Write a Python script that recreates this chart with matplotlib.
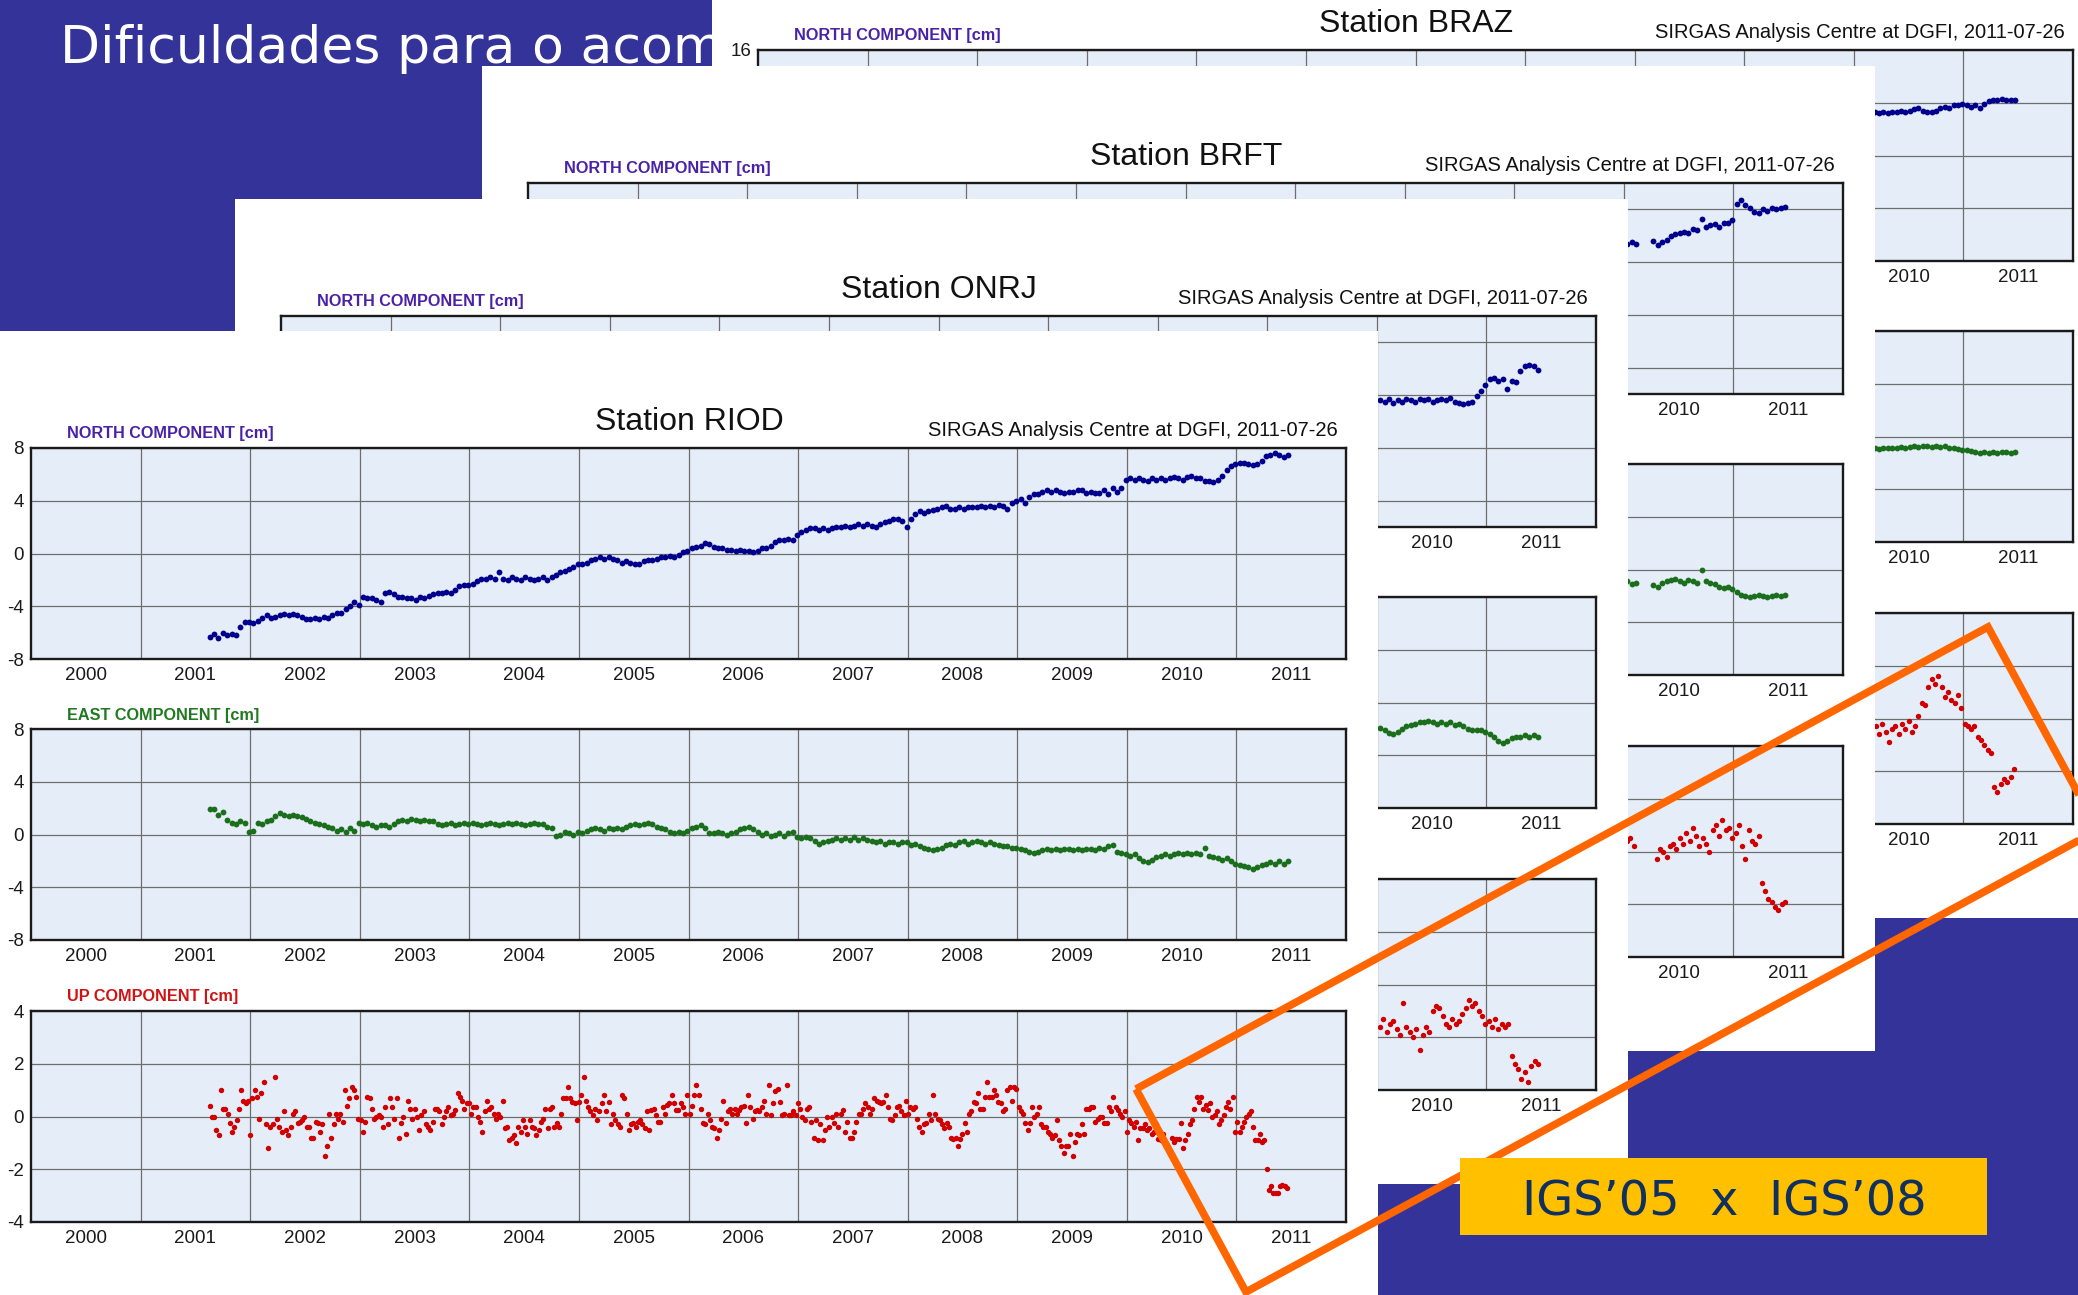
import numpy as np
import matplotlib.pyplot as plt
from matplotlib.patches import Rectangle, Polygon
from matplotlib.ticker import FixedLocator, FuncFormatter, MultipleLocator

W, H = 2078, 1295
FAM = ['Liberation Sans', 'DejaVu Sans']
plt.rcParams['font.family'] = FAM

# ---------------------------------------------------------------- data
# weekly-ish solutions (cm); north/east every 0.04 yr
STEP = 0.04

riod_north = [
    -6.3, -6.1, -6.4, -6.0, -6.2, -6.1, -6.2, -5.6, -5.2,                      # 2001
    -5.2, -5.3, -5.1, -4.9, -4.7, -4.9, -4.8, -4.7, -4.6, -4.7, -4.6, -4.7, -4.8,
    -5.0, -5.0, -4.9, -5.0, -4.8, -4.9, -4.7, -4.5, -4.5, -4.2, -4.0, -3.7,    # 2002
    -3.9, -3.3, -3.4, -3.4, -3.5, -3.7, -3.0, -2.9, -3.1, -3.3, -3.3, -3.4, -3.4,
    -3.5, -3.3, -3.4, -3.2, -3.1, -3.0, -3.0, -2.9, -3.0, -2.8, -2.5, -2.4,    # 2003
    -2.4, -2.3, -2.1, -1.9, -1.9, -1.8, -1.9, -1.4, -1.9, -2.0, -1.8, -1.9, -2.0,
    -1.8, -1.9, -2.0, -1.9, -1.8, -2.0, -1.8, -1.6, -1.4, -1.3, -1.2, -1.0,    # 2004
    -0.8, -0.8, -0.7, -0.5, -0.4, -0.3, -0.4, -0.3, -0.4, -0.5, -0.7, -0.6, -0.7,
    -0.8, -0.8, -0.6, -0.5, -0.5, -0.4, -0.3, -0.3, -0.2, -0.3, -0.1, 0.1,     # 2005
    0.2, 0.4, 0.5, 0.6, 0.8, 0.7, 0.5, 0.4, 0.4, 0.3, 0.3, 0.2, 0.3,
    0.2, 0.2, 0.1, 0.2, 0.4, 0.4, 0.6, 0.9, 1.0, 1.0, 1.1, 1.0,                # 2006
    1.4, 1.6, 1.8, 1.9, 1.9, 1.8, 1.9, 1.8, 1.9, 2.0, 2.0, 2.1, 2.0,
    2.1, 2.2, 2.1, 2.2, 2.1, 2.0, 2.2, 2.4, 2.5, 2.6, 2.6, 2.5,                # 2007
    2.0, 2.6, 3.0, 3.2, 3.1, 3.2, 3.3, 3.4, 3.5, 3.6, 3.4, 3.4, 3.5,
    3.4, 3.5, 3.5, 3.5, 3.6, 3.5, 3.6, 3.5, 3.7, 3.6, 3.4, 3.8,                # 2008
    4.0, 4.1, 3.8, 4.3, 4.5, 4.5, 4.7, 4.8, 4.7, 4.8, 4.7, 4.6, 4.7,
    4.7, 4.8, 4.8, 4.6, 4.7, 4.6, 4.6, 4.8, 4.5, 5.0, 4.7, 5.0,                # 2009
    5.6, 5.7, 5.6, 5.7, 5.6, 5.5, 5.7, 5.6, 5.7, 5.6, 5.7, 5.8, 5.7,
    5.6, 5.8, 5.9, 5.7, 5.7, 5.5, 5.5, 5.4, 5.6, 5.9, 6.3, 6.6,                # 2010
    6.8, 6.9, 6.9, 6.8, 6.7, 6.8, 7.0, 7.4, 7.5, 7.6, 7.5, 7.3, 7.5,           # 2011
]

riod_east = [
    1.9, 1.9, 1.5, 1.7, 1.1, 0.9, 0.8, 1.0, 0.9,                               # 2001
    0.2, 0.3, 0.9, 0.8, 1.0, 1.1, 1.4, 1.6, 1.5, 1.4, 1.5, 1.4, 1.3,
    1.2, 1.0, 0.9, 0.8, 0.7, 0.6, 0.5, 0.3, 0.4, 0.2, 0.5, 0.3,                # 2002
    0.9, 0.8, 0.9, 0.7, 0.6, 0.7, 0.7, 0.6, 0.8, 1.0, 1.1, 1.0, 1.2,
    1.1, 1.0, 1.1, 1.0, 1.0, 0.8, 0.7, 0.8, 0.9, 0.7, 0.8, 0.9,                # 2003
    0.8, 0.9, 0.8, 0.7, 0.8, 0.9, 0.8, 0.7, 0.8, 0.9, 0.8, 0.9, 0.8,
    0.7, 0.8, 0.9, 0.8, 0.8, 0.6, 0.5, -0.1, 0.0, 0.2, 0.1, 0.0,               # 2004
    0.2, 0.1, 0.3, 0.4, 0.5, 0.4, 0.3, 0.5, 0.4, 0.5, 0.4, 0.6, 0.7,
    0.8, 0.7, 0.8, 0.9, 0.8, 0.6, 0.5, 0.4, 0.2, 0.1, 0.2, 0.1,                # 2005
    0.3, 0.5, 0.6, 0.7, 0.5, 0.1, 0.1, 0.2, 0.1, 0.0, 0.1, 0.2, 0.4,
    0.5, 0.6, 0.4, 0.2, 0.0, 0.1, -0.1, 0.0, 0.1, -0.1, 0.1, 0.2,              # 2006
    -0.2, -0.3, -0.2, -0.3, -0.5, -0.7, -0.6, -0.5, -0.4, -0.3, -0.4, -0.3, -0.4,
    -0.2, -0.4, -0.3, -0.4, -0.5, -0.6, -0.5, -0.7, -0.6, -0.6, -0.7, -0.6,    # 2007
    -0.6, -0.8, -0.7, -0.9, -1.0, -1.1, -1.2, -1.1, -1.0, -0.8, -0.7, -0.8, -0.6,
    -0.5, -0.7, -0.6, -0.5, -0.6, -0.7, -0.6, -0.7, -0.8, -0.9, -0.9, -1.0,    # 2008
    -1.0, -1.1, -1.2, -1.3, -1.4, -1.3, -1.2, -1.1, -1.2, -1.1, -1.2, -1.1, -1.1,
    -1.2, -1.1, -1.2, -1.1, -1.1, -1.2, -1.0, -1.1, -0.9, -0.8, -1.3, -1.4,    # 2009
    -1.5, -1.6, -1.5, -1.8, -2.0, -2.1, -1.9, -1.7, -1.6, -1.5, -1.6, -1.5, -1.4,
    -1.5, -1.4, -1.5, -1.4, -1.5, -1.0, -1.6, -1.7, -1.8, -1.9, -1.8, -2.0,    # 2010
    -2.2, -2.3, -2.4, -2.5, -2.6, -2.5, -2.3, -2.2, -2.1, -2.2, -2.0, -2.2, -2.0,  # 2011
]

riod_up = [
    0.4, 0.0, 0.0, -0.5, -0.7, 1.0, 0.3, 0.3, 0.1, -0.25,
    -0.6, -0.4, -0.15, 0.3, 1.0, 0.6, 0.5, 0.6, -0.7, 0.7,
    1.0, 0.75, -0.1, 0.9, 1.3, -0.3, -1.2, -0.4, -0.3, 1.5,
    -0.1, -0.4, -0.6, 0.2, -0.5, -0.7, -0.4, 0.1, 0.2, -0.25,
    -0.2, -0.15, 0.0, -0.4, -0.4, -0.8, -0.8, -0.2, -0.25, -0.6,
    -0.3, -1.5, -1.1, 0.1, -0.8, -0.3, 0.1, -0.1, 0.1, -0.2,
    1.0, 0.4, 0.7, 1.1, 1.0, 0.75, -0.1, -0.15, -0.6, -0.2,
    0.75, 0.7, 0.3, -0.1, 0.0, 0.05, 0.0, -0.4, 0.35, -0.3,
    0.7, 0.35, -0.1, 0.7, -0.8, -0.25, 0.0, -0.65, 0.6, 0.3,
    -0.1, 0.3, 0.0, -0.5, 0.05, 0.2, -0.3, -0.4, -0.5, -0.2,
    0.3, 0.3, 0.2, -0.3, 0.0, 0.2, 0.35, 0.05, 0.1, 0.25,
    0.9, 0.75, 0.6, 0.3, 0.5, 0.5, 0.1, 0.35, 0.35, 0.0,
    -0.2, -0.6, 0.2, 0.6, 0.3, 0.35, 0.1, -0.1, 0.1, 0.0,
    0.6, -0.45, -0.4, -0.9, -0.8, -0.7, -1.0, -0.4, -0.6, -0.15,
    -0.4, -0.65, -0.15, -0.4, -0.45, -0.7, -0.5, -0.2, -0.1, 0.3,
    -0.45, 0.3, 0.35, -0.4, -0.25, -0.4, 0.1, 0.7, 0.7, 1.1,
    0.7, 0.55, 0.5, -0.15, 0.55, 0.8, 1.5, 0.6, 0.35, 0.2,
    0.05, 0.3, -0.15, 0.2, 0.5, 0.8, 0.2, 0.55, -0.3, 0.1,
    -0.15, -0.3, -0.4, 0.8, 0.7, 0.1, -0.5, -0.3, -0.25, -0.4,
    -0.2, -0.15, -0.3, -0.45, 0.2, -0.5, 0.25, 0.3, 0.05, -0.2,
    -0.2, 0.35, 0.1, 0.45, 0.5, 0.8, 0.5, 0.25, 0.25, 0.5,
    0.35, 0.1, 0.8, 0.1, 0.4,
    # 2006 onwards
    0.8, 1.2, 0.8, 0.3, -0.25, -0.3, 0.1, -0.15, -0.4, -0.45,
    -0.8, -0.5, -0.1, 0.6, -0.25, 0.2, 0.3, 0.1, 0.3, 0.1,
    0.25, 0.35, 0.4, -0.25, 0.8, 0.35, -0.1, 0.2, 0.25, 0.2,
    0.35, 0.6, 0.1, 1.2, 0.05, 0.5, 0.95, 1.05, 0.55, 0.05,
    0.1, 1.2, 0.05, 0.05, 0.2, 0.05, 0.5, 0.3, 0.0, -0.15,
    0.3, 0.35, -0.2, -0.8, -0.15, -0.9, -0.3, -0.9, -0.5, 0.0,
    -0.4, 0.0, -0.25, 0.1, -0.4, 0.1, 0.25, -0.6, -0.2, -0.8,
    -0.8, -0.6, -0.2, 0.1, 0.1, 0.3, 0.5, 0.35, 0.1, 0.3,
    0.7, 0.6, 0.55, 0.5, 0.55, 0.8, 0.35, -0.1, -0.15, 0.05,
    0.35, 0.4, 0.2, 0.05, 0.6, 0.1, 0.35, 0.3, 0.35, -0.1,
    -0.4, -0.6, -0.3, -0.25, 0.1, -0.15, 0.8, 0.1, -0.1, -0.15,
    -0.3, -0.45, -0.25, -0.4, -0.8, -0.85, -0.8, -1.1, -0.85, -0.65,
    -0.25, -0.6, 0.1, 0.2, 0.55, 0.5, 0.9, 0.3, 0.3, 0.75,
    1.3, 0.75, 0.75, 1.0, 0.8, 0.55, 0.5, 0.2, 0.3, 1.0,
    1.1, 0.6, 1.1, 1.05, 0.35, 0.2, 0.1, -0.25, -0.5, -0.25,
    0.35, 0.0, 0.1, 0.35, -0.3, -0.4, -0.4, -0.6, -0.65, -0.8,
    -0.7, -0.15, -0.9, -1.1, -1.4, -1.1, -1.1, -0.65, -1.5, -0.95,
    -0.65, -0.7, -0.3, -0.65, 0.3, 0.3, 0.35, 0.35, -0.2, -0.1,
    0.0, 0.0, -0.25, -0.25, 0.35, 0.2, 0.75, 0.35, 0.25, 0.1,
    0.0, 0.2, -0.6, -0.15, -0.25, -0.4, -0.2, -0.9, -0.45, -0.45,
    -0.3, -0.5, -0.45, -0.65, -0.6, -0.3, -0.85, -0.9, -0.65, -0.95,
    -1.1, -1.35, -0.8, -0.95, -0.85, -0.85, -0.25, -1.2, -0.9, -0.65,
    -0.3, -0.15, 0.3, 0.75, 0.55, 0.75, 0.3, 0.45, 0.25, 0.5,
    0.0, 0.05, 0.2, -0.3, -0.15, 0.05, 0.35, 0.55, 0.3, 0.75,
    -0.6, -0.2, -0.6, -0.4, -0.2, 0.0, 0.1, 0.2, -0.4, -0.9,
    -0.9, -0.65, -0.95, -0.9, -2.0, -2.8, -2.65, -2.9, -2.9, -2.9,
    -2.65, -2.6, -2.65, -2.7,
]

# stations behind RIOD: only the part from about 2010 on can be seen
onrj_north = [
    -0.4, -0.5, -0.3, -0.6, -0.4, -0.5, -0.3, -0.4, -0.5, -0.3, -0.4, -0.3,
    -0.5, -0.4, -0.3, -0.4, -0.2, -0.5, -0.6, -0.7, -0.6, -0.5, -0.1, 0.3,
    0.8, 1.2, 1.3, 1.1, 1.2, 0.5, 1.1, 1.0, 1.8, 2.2, 2.3, 2.2, 1.9,
]
onrj_east = [
    -1.9, -2.1, -2.3, -2.4, -2.2, -2.0, -1.8, -1.7, -1.6, -1.5, -1.5, -1.4,
    -1.5, -1.6, -1.5, -1.6, -1.5, -1.7, -1.6, -1.8, -2.0, -2.1, -2.1, -2.1,
    -2.2, -2.4, -2.6, -2.9, -3.1, -2.9, -2.7, -2.6, -2.6, -2.5, -2.6, -2.5, -2.6,
]
onrj_up = [
    -1.6, -1.3, -1.8, -1.5, -1.4, -1.7, -1.9, -0.7, -1.6, -1.8, -2.0, -1.7,
    -2.5, -1.9, -1.6, -1.8, -1.0, -0.8, -0.9, -1.2, -1.5, -1.6, -1.3, -1.5,
    -1.4, -1.1, -0.9, -0.6, -0.8, -0.7, -1.0, -1.2, -1.5, -1.4, -1.6, -1.3,
    -1.7, -1.5, -1.6, -1.5, -2.7, -3.0, -3.2, -3.6, -3.3, -3.7, -3.1, -2.9, -3.0,
]

brft_north = [
    1.4, 1.5, 1.4, np.nan, np.nan, np.nan, 1.6, 1.3, 1.5, 1.7, 2.0, 2.1,
    2.2, 2.3, 2.2, 2.5, 2.4, 3.3, 2.7, 2.8, 2.9, 2.7, 3.0, 3.0,
    3.2, 4.4, 4.7, 4.3, 4.1, 3.8, 3.7, 4.0, 3.9, 4.1, 4.0, 4.1, 4.2,
]
brft_east = [
    -0.9, -1.1, -1.0, np.nan, np.nan, np.nan, -1.2, -1.3, -1.0, -0.9, -0.8, -0.7,
    -0.9, -1.0, -0.8, -0.9, -1.0, 0.0, -0.9, -1.0, -1.1, -1.3, -1.4, -1.3,
    -1.5, -1.7, -1.9, -2.0, -2.1, -2.0, -1.9, -2.0, -2.1, -2.0, -1.9, -2.0, -1.9,
]
brft_up = [
    0.4, 0.5, 0.2, np.nan, np.nan, np.nan, np.nan, np.nan, np.nan, -0.3,
    0.1, 0.0, -0.2, 0.2, 0.3, 0.1, 0.5, 0.3, 0.7, 0.4,
    0.9, 0.6, 0.2, 0.5, 0.3, 0.0, 0.8, 1.0, 0.6, 1.2,
    0.8, 0.9, 0.5, 0.7, 1.0, 0.2, -0.3, 0.8, 0.4, 0.3,
    0.6, -1.2, -1.5, -1.8, -1.9, -2.1, -2.2, -2.0, -1.9,
]

braz_north = [
    11.3, 11.2, 11.3, 11.2, 11.3, 11.3, 11.4, 11.3, 11.4, 11.5, 11.6,
    11.4, 11.3, 11.3, 11.4, 11.6, 11.7, 11.6, 11.8, 11.8, 11.9, 11.8,
    11.7, 11.8, 11.6, 11.9, 12.1, 12.2, 12.2, 12.3, 12.2, 12.2, 12.2,
]
braz_east = [
    -0.9, -0.95, -0.9, -0.85, -0.9, -0.85, -0.8, -0.85, -0.8, -0.75, -0.8,
    -0.7, -0.75, -0.8, -0.75, -0.8, -0.75, -0.85, -0.9, -0.95, -1.0, -1.05,
    -1.1, -1.2, -1.25, -1.2, -1.25, -1.2, -1.25, -1.2, -1.2, -1.25, -1.2,
]
braz_up = [
    -0.3, -0.6, -0.2, -0.5, -0.9, -0.4, -0.3, -0.6, -0.2, -0.4, -0.1,
    -0.5, -0.3, 0.1, 0.6, 0.5, 1.2, 1.5, 1.3, 1.6, 1.2, 0.8,
    1.0, 0.7, 0.6, 0.9, 0.4, -0.2, -0.3, -0.4, -0.3, -0.7, -0.8,
    -1.0, -1.2, -1.3, -2.6, -2.8, -2.5, -2.3, -2.4, -2.2, -1.9,
]

year_labels = list(range(2000, 2012))
SUBTITLE = 'SIRGAS Analysis Centre at DGFI, 2011-07-26'

# ---------------------------------------------------------------- layout helpers
PANEL_W, PANEL_H = 1393, 985
AX_W, AX_H = 1315, 211


def fx(x):
    return x / W


def fy(y):
    return 1 - y / H


def frac_rect(x, y, w, h):
    return [x / W, 1 - (y + h) / H, w / W, h / H]


def regular(t0, vals):
    return t0 + STEP * np.arange(len(vals))


fig = plt.figure(figsize=(W / 100, H / 100), dpi=100)
fig.patch.set_facecolor('#333399')

# slide title, its end is hidden under the BRAZ page
fig.text(fx(60), fy(63), 'Dificuldades para o acom', color='white',
         fontsize=37.5, family=['DejaVu Sans'], va='baseline', zorder=1)


def draw_station(name, x0, y0, z, comps, back=False):
    fig.add_artist(Rectangle((x0 / W, 1 - (y0 + PANEL_H) / H), PANEL_W / W, PANEL_H / H,
                             transform=fig.transFigure, facecolor='white',
                             edgecolor='none', zorder=z))
    fig.text(fx(x0 + 704), fy(y0 + 99), 'Station ' + name, ha='center',
             va='baseline', fontsize=23, color='#111111', zorder=z + 1)
    fig.text(fx(x0 + 1353), fy(y0 + 105), SUBTITLE, ha='right', va='baseline',
             fontsize=14.5, color='#111111', zorder=z + 1)
    for i, (label, lab_col, dot_col, top, base, t, v, ylim, ystep, ms) in enumerate(comps):
        # labels of the pages behind are covered, except the north one
        if not back or i == 0:
            fig.text(fx(x0 + 82), fy(y0 + base), label, color=lab_col, fontsize=11.7,
                     fontweight='bold', va='baseline', zorder=z + 1)
        ax = fig.add_axes(frac_rect(x0 + 46, y0 + top, AX_W, AX_H))
        ax.set_zorder(z + 2)
        ax.set_facecolor('#e5edf9')
        ax.plot(t, v, linestyle='none', marker='o', ms=ms, color=dot_col,
                mec='none')
        ax.set_xlim(2000, 2012)
        ax.set_ylim(*ylim)
        ax.xaxis.set_major_locator(FixedLocator([y + 0.5 for y in year_labels]))
        ax.xaxis.set_minor_locator(FixedLocator(year_labels[1:]))
        ax.yaxis.set_major_locator(MultipleLocator(ystep))
        if back:
            top_val = ylim[1] if i == 0 else None
            ax.xaxis.set_major_formatter(
                FuncFormatter(lambda x, p: str(int(x)) if x > 2010 else ''))
            ax.yaxis.set_major_formatter(
                FuncFormatter(lambda y, p, tv=top_val: '%d' % y if y == tv else ''))
        else:
            ax.xaxis.set_major_formatter(FuncFormatter(lambda x, p: str(int(x))))
            ax.yaxis.set_major_formatter(FuncFormatter(lambda y, p: '%d' % y))
        ax.grid(True, which='minor', axis='x', color='#6e6e6e', lw=0.9)
        ax.grid(True, which='major', axis='y', color='#6e6e6e', lw=0.9)
        ax.tick_params(which='both', length=0, labelsize=13.5, colors='#1a1a1a')
        ax.tick_params(axis='y', pad=5)
        ax.tick_params(axis='x', pad=6)
        for s in ax.spines.values():
            s.set_color('#1a1a1a')
            s.set_linewidth(1.7)


NAVY, GREEN, RED = '#00008c', '#1b6e1b', '#d00000'
LN, LE, LU = '#4a22a8', '#217a21', '#d01414'


def comps(tn, n, te, e, tu, u, nlim):
    return [
        ('NORTH COMPONENT [cm]', LN, NAVY, 117, 107, tn, n, nlim, 4, 4.2),
        ('EAST COMPONENT [cm]', LE, GREEN, 398, 389, te, e, (-8, 8), 4, 4.2),
        ('UP COMPONENT [cm]', LU, RED, 680, 670, tu, u, (-4, 4), 2, 3.9),
    ]


draw_station('BRAZ', 712, -67, 10,
             comps(regular(2010.19, braz_north), braz_north,
                   regular(2010.19, braz_east), braz_east,
                   np.linspace(2010.20, 2011.46, len(braz_up)), braz_up, (0, 16)),
             back=True)
draw_station('BRFT', 482, 66, 20,
             comps(regular(2010.03, brft_north), brft_north,
                   regular(2010.03, brft_east), brft_east,
                   np.linspace(2010.03, 2011.47, len(brft_up)), brft_up, (-10, 6)),
             back=True)
draw_station('ONRJ', 235, 199, 30,
             comps(regular(2010.03, onrj_north), onrj_north,
                   regular(2010.03, onrj_east), onrj_east,
                   np.linspace(2010.03, 2011.47, len(onrj_up)), onrj_up, (-10, 6)),
             back=True)
draw_station('RIOD', -15, 331, 40,
             comps(regular(2001.63, riod_north), riod_north,
                   regular(2001.63, riod_east), riod_east,
                   np.linspace(2001.63, 2011.46, len(riod_up)), riod_up, (-8, 8)))

# orange highlight frame
corners = [(1136, 1089), (1988, 627), (2098, 830), (1246, 1292)]
fig.add_artist(Polygon([(fx(x), fy(y)) for x, y in corners], closed=True,
                       fill=False, edgecolor='#ff6600', lw=5.5,
                       joinstyle='miter', transform=fig.transFigure, zorder=100))

# label box
fig.add_artist(Rectangle((fx(1460), fy(1235)), 527 / W, 77 / H,
                         transform=fig.transFigure, facecolor='#ffc000',
                         edgecolor='none', zorder=110))
fig.text(fx(1724), fy(1215), 'IGS\u201905  x  IGS\u201908', ha='center',
         va='baseline', fontsize=34.5, family=['DejaVu Sans'], color='#10305f',
         zorder=111)

fig.savefig('out.png', dpi=100, facecolor=fig.get_facecolor())
